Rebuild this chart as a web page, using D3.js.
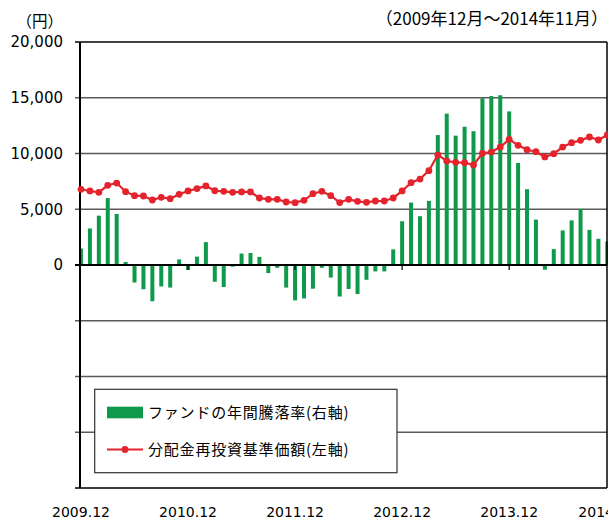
<!DOCTYPE html>
<html>
<head>
<meta charset="utf-8">
<script src="https://cdn.jsdelivr.net/npm/d3@7"></script>
<style>
  body { margin: 0; background: #fff; }
  svg { display: block; }
</style>
</head>
<body>
<div id="chart"></div>
<script>
// monthly categories 2009.12 .. 2014.11
const months = [];
for (let i = 0; i < 60; i++) {
    const m = (11 + i) % 12 + 1;
    const y = 2009 + Math.floor((11 + i) / 12);
    months.push(`${y}.${String(m).padStart(2, "0")}`);
}

// fund annual return, % (right axis)
const annualReturn = [5.9, 13.1, 17.7, 24.0, 18.3, 1.1, -6.3, -8.7, -13.0, -7.7,
    -8.1, 2.0, -1.8, 3.0, 8.2, -6.0, -7.9, -0.6, 4.1, 4.3,
    2.9, -2.9, -1.0, -8.1, -12.7, -12.0, -8.5, -1.0, -4.5, -11.3,
    -8.6, -10.4, -5.3, -2.3, -2.3, 5.6, 15.7, 22.4, 17.5, 23.0,
    46.6, 54.3, 46.4, 49.6, 48.0, 59.8, 60.6, 60.9, 55.1, 36.6,
    27.2, 16.3, -1.7, 5.7, 12.4, 16.0, 20.1, 12.6, 9.4, 8.4];

// NAV with dividends reinvested, yen (left axis)
const nav = [6790, 6640, 6520, 7150, 7350, 6575, 6220, 6190, 5830, 6070,
    5950, 6340, 6640, 6850, 7090, 6660, 6610, 6520, 6550, 6550,
    6010, 5890, 5890, 5650, 5590, 5800, 6400, 6610, 6220, 5600,
    5890, 5710, 5620, 5740, 5740, 6010, 6640, 7380, 7710, 8460,
    9870, 9330, 9210, 9180, 8970, 10020, 10130, 10580, 11270, 10730,
    10340, 10160, 9690, 9980, 10580, 10970, 11180, 11480, 11210, 11660];

const xTickLabels = ["2009.12", "2010.12", "2011.12", "2012.12", "2013.12", "2014.12"];
const yTicks = [-20000, -15000, -10000, -5000, 0, 5000, 10000, 15000, 20000];

const legendNames = ["ファンドの年間騰落率(右軸)", "分配金再投資基準価額(左軸)"];

function drawChart(containerId) {
    const W = 608, H = 521;
    const left = 80, right = 607, top = 42, bottom = 488;
    const green = "#0e9a4a", red = "#e4232c";
    const cjk = "'Noto Sans CJK JP', sans-serif";
    const num = "'DejaVu Sans', sans-serif";

    d3.select(`#${containerId}`).selectAll("*").remove();

    const svg = d3.select(`#${containerId}`)
        .append("svg")
        .attr("width", W)
        .attr("height", H);

    const x = d3.scalePoint()
        .domain(months)
        .range([81, 607.3]);

    const y = d3.scaleLinear()
        .domain([-20000, 20000])
        .range([bottom, top]);

    const yPct = d3.scaleLinear()
        .domain([-80, 80])
        .range([bottom, top]);

    // gridlines
    svg.append("g")
        .selectAll("line")
        .data(yTicks)
        .join("line")
        .attr("x1", left - 5)
        .attr("x2", right)
        .attr("y1", d => y(d))
        .attr("y2", d => y(d))
        .attr("stroke", d => (d === 0 || Math.abs(d) === 20000) ? "#000" : "#5a5a5a")
        .attr("stroke-width", d => d === 0 ? 2 : 1.5);

    // bars
    svg.append("g")
        .selectAll("rect")
        .data(annualReturn)
        .join("rect")
        .attr("x", (d, i) => x(months[i]) - 2)
        .attr("width", 4)
        .attr("y", d => yPct(Math.max(0, d)))
        .attr("height", d => Math.abs(yPct(d) - yPct(0)))
        .attr("fill", green);

    // zero line again on top of bars, plus year ticks
    svg.append("line")
        .attr("x1", left - 5).attr("x2", right)
        .attr("y1", y(0)).attr("y2", y(0))
        .attr("stroke", "#000").attr("stroke-width", 2);

    svg.append("g")
        .selectAll("line")
        .data([12, 24, 36, 48])
        .join("line")
        .attr("x1", i => x(months[i]))
        .attr("x2", i => x(months[i]))
        .attr("y1", y(0))
        .attr("y2", y(0) + 5)
        .attr("stroke", "#000")
        .attr("stroke-width", 1.2);

    // frame
    svg.append("line")
        .attr("x1", left).attr("x2", left)
        .attr("y1", top).attr("y2", bottom)
        .attr("stroke", "#000").attr("stroke-width", 2);
    svg.append("line")
        .attr("x1", right).attr("x2", right)
        .attr("y1", top).attr("y2", bottom)
        .attr("stroke", "#000").attr("stroke-width", 1.5);

    // left axis labels
    const yAxis = svg.append("g")
        .attr("transform", `translate(${left},0)`)
        .call(d3.axisLeft(y)
            .tickValues(yTicks)
            .tickSize(0)
            .tickPadding(17)
            .tickFormat(d => d >= 0 ? d3.format(",")(d) : ""));
    yAxis.select(".domain").remove();
    yAxis.selectAll("text")
        .attr("font-family", num)
        .attr("font-size", 15)
        .attr("fill", "#000");

    // x labels
    svg.append("g")
        .selectAll("text")
        .data(xTickLabels)
        .join("text")
        .attr("x", (d, i) => x(months[Math.min(i * 12, months.length - 1)]))
        .attr("y", 516.5)
        .attr("text-anchor", "middle")
        .attr("font-family", num)
        .attr("font-size", 14)
        .text(d => d);

    // NAV line
    const line = d3.line()
        .x((d, i) => x(months[i]))
        .y(d => y(d));

    svg.append("path")
        .datum(nav)
        .attr("d", line)
        .attr("fill", "none")
        .attr("stroke", red)
        .attr("stroke-width", 2.2);

    svg.append("g")
        .selectAll("circle")
        .data(nav)
        .join("circle")
        .attr("cx", (d, i) => x(months[i]))
        .attr("cy", d => y(d))
        .attr("r", 3.4)
        .attr("fill", red);

    // titles
    svg.append("text")
        .attr("x", 63).attr("y", 27)
        .attr("text-anchor", "end")
        .attr("font-family", cjk)
        .attr("font-size", 15.5)
        .text("（円）");

    svg.append("text")
        .attr("x", 608).attr("y", 25)
        .attr("text-anchor", "end")
        .attr("font-family", cjk)
        .attr("font-size", 17)
        .text("（2009年12月～2014年11月）");

    // legend
    const lg = svg.append("g");
    lg.append("rect")
        .attr("x", 94.7).attr("y", 389.3)
        .attr("width", 302.3).attr("height", 83.4)
        .attr("fill", "#fff")
        .attr("stroke", "#333")
        .attr("stroke-width", 1.2);
    lg.append("rect")
        .attr("x", 107).attr("y", 406.7)
        .attr("width", 36).attr("height", 11.6)
        .attr("fill", green);
    lg.append("line")
        .attr("x1", 107).attr("x2", 143)
        .attr("y1", 449.5).attr("y2", 449.5)
        .attr("stroke", red).attr("stroke-width", 2.2);
    lg.append("circle")
        .attr("cx", 125).attr("cy", 449.5).attr("r", 3.4)
        .attr("fill", red);
    lg.selectAll("text.lab")
        .data(legendNames)
        .join("text")
        .attr("class", "lab")
        .attr("x", 148)
        .attr("y", (d, i) => i === 0 ? 417.5 : 455)
        .attr("font-family", cjk)
        .attr("font-size", 15)
        .attr("letter-spacing", 0.8)
        .text(d => d);
}

drawChart("chart");
</script>
</body>
</html>
